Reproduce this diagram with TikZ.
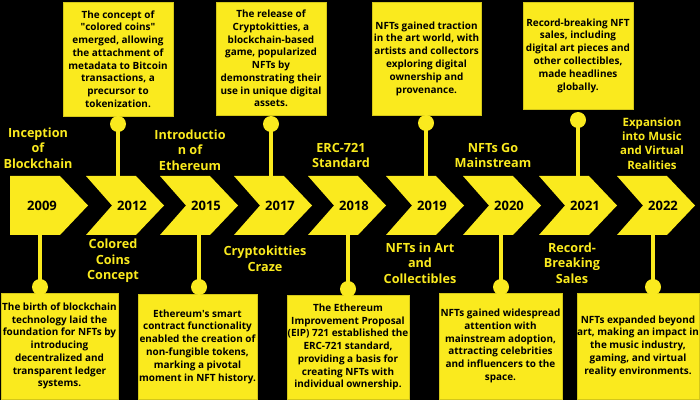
\documentclass[tikz,border=0pt]{standalone}
\usepackage{fontspec}
\setmainfont{Open Sans}
\usetikzlibrary{positioning, calc}
\definecolor{giallo}{RGB}{250,234,30}

\tikzset{
    anno/.style={font=\bfseries\fontsize{11.1}{13}\selectfont, inner sep=0pt},
    titolo/.style={font=\bfseries\fontsize{10.8}{13.3}\selectfont, text=giallo, align=center, inner sep=0pt},
    scheda/.style={fill=giallo, draw=giallo!85!black, line width=0.6pt, align=center, inner sep=0pt,
        font=\bfseries\fontsize{8.5}{10.9}\selectfont},
    pallino/.style={circle, fill=giallo, minimum size=0.48cm, inner sep=0pt},
    stelo/.style={draw=giallo, line width=3.4pt}
}

\begin{document}
\begin{tikzpicture}[x=0.03cm, y=-0.03cm]
    %sfondo
        \fill[black] (0,0) rectangle (700,400);
        \useasboundingbox (0,0) rectangle (700,400);
        %disegno frecce
        \fill[giallo] (10,176) -- ++(50,0) -- ++(28,29.5) -- ++(-28,29.5) -- ++(-50,0) -- cycle;
        \foreach \x in {86,160,234,308,386,463,539,617}
            \fill[giallo] (\x,176) -- ++(50,0) -- ++(28,29.5) -- ++(-28,29.5) -- ++(-50,0) -- ++(26,-29.5) -- cycle;
        %anni
        \node[anno] (a2009) at (42,205.5) {2009};
        \foreach \x/\a in {86/2012,160/2015,234/2017,308/2018,386/2019,463/2020,539/2021,617/2022}
            \node[anno] (a\a) at (\x+46,205.5) {\a};
        %schede sopra
        \node[scheda, minimum width=3.3cm, minimum height=3.42cm] (d2012) at (118,59)
            {The concept of\\\textquotedbl colored coins\textquotedbl\\emerged, allowing\\the attachment of\\metadata to Bitcoin\\transactions, a\\precursor to\\tokenization.};
        \node[scheda, minimum width=3.3cm, minimum height=3.39cm] (d2017) at (271,58.5)
            {The release of\\Cryptokitties, a\\blockchain-based\\game, popularized\\NFTs by\\demonstrating their\\use in unique digital\\assets.};
        \node[scheda, minimum width=3.27cm, minimum height=3.39cm] (d2019) at (426.5,58.5)
            {NFTs gained traction\\in the art world, with\\artists and collectors\\exploring digital\\ownership and\\provenance.};
        \node[scheda, minimum width=3.3cm, minimum height=3.21cm] (d2021) at (578,55.5)
            {Record-breaking NFT\\sales, including\\digital art pieces and\\other collectibles,\\made headlines\\globally.};
        %schede sotto
        \node[scheda, minimum width=3.51cm, minimum height=3.18cm] (d2009) at (59.5,346)
            {The birth of blockchain\\technology laid the\\foundation for NFTs by\\introducing\\decentralized and\\transparent ledger\\systems.};
        \node[scheda, minimum width=3.57cm, minimum height=3.15cm] (d2015) at (197.5,346.5)
            {Ethereum\textquotesingle s smart\\contract functionality\\enabled the creation of\\non-fungible tokens,\\marking a pivotal\\moment in NFT history.};
        \node[scheda, minimum width=3.66cm, minimum height=3.12cm] (d2018) at (348,347)
            {The Ethereum\\Improvement Proposal\\(EIP) 721 established the\\ERC-721 standard,\\providing a basis for\\creating NFTs with\\individual ownership.};
        \node[scheda, minimum width=3.69cm, minimum height=3.18cm] (d2020) at (500.5,346)
            {NFTs gained widespread\\attention with\\mainstream adoption,\\attracting celebrities\\and influencers to the\\space.};
        \node[scheda, minimum width=3.66cm, minimum height=3.18cm] (d2022) at (638,346)
            {NFTs expanded beyond\\art, making an impact in\\the music industry,\\gaming, and virtual\\reality environments.};
        %collegamenti
        \foreach \a/\x/\y in {2012/118/124,2017/271/124,2019/426/123,2021/578/120}{
            \coordinate (t\a) at (\x,176);
            \node[pallino] (p\a) at (\x,\y) {};
            \draw[stelo] (p\a.center) -- (t\a);
        }
        \foreach \a/\x/\y in {2009/40/287,2015/199/287,2018/348/289,2020/501/287,2022/653/287}{
            \coordinate (t\a) at (\x,235);
            \node[pallino] (p\a) at (\x,\y) {};
            \draw[stelo] (t\a) -- (p\a.center);
        }
        %titoli
        \node[titolo] (n2009) at (38,148) {Inception\\of\\Blockchain};
        \node[titolo] (n2015) at (190,150) {Introductio\\n of\\Ethereum};
        \node[titolo] (n2018) at (341,155.5) {ERC-721\\Standard};
        \node[titolo] (n2020) at (493,155.5) {NFTs Go\\Mainstream};
        \node[titolo, font=\bfseries\fontsize{9.8}{12.2}\selectfont] (n2022) at (652,143.5) {Expansion\\into Music\\and Virtual\\Realities};
        \node[titolo] (n2012) at (113,261) {Colored\\Coins\\Concept};
        \node[titolo] (n2017) at (265,258.5) {Cryptokitties\\Craze};
        \node[titolo] (n2019) at (420,263) {NFTs in Art\\and\\Collectibles};
        \node[titolo] (n2021) at (572,263) {Record-\\Breaking\\Sales};
\end{tikzpicture}
\end{document}
